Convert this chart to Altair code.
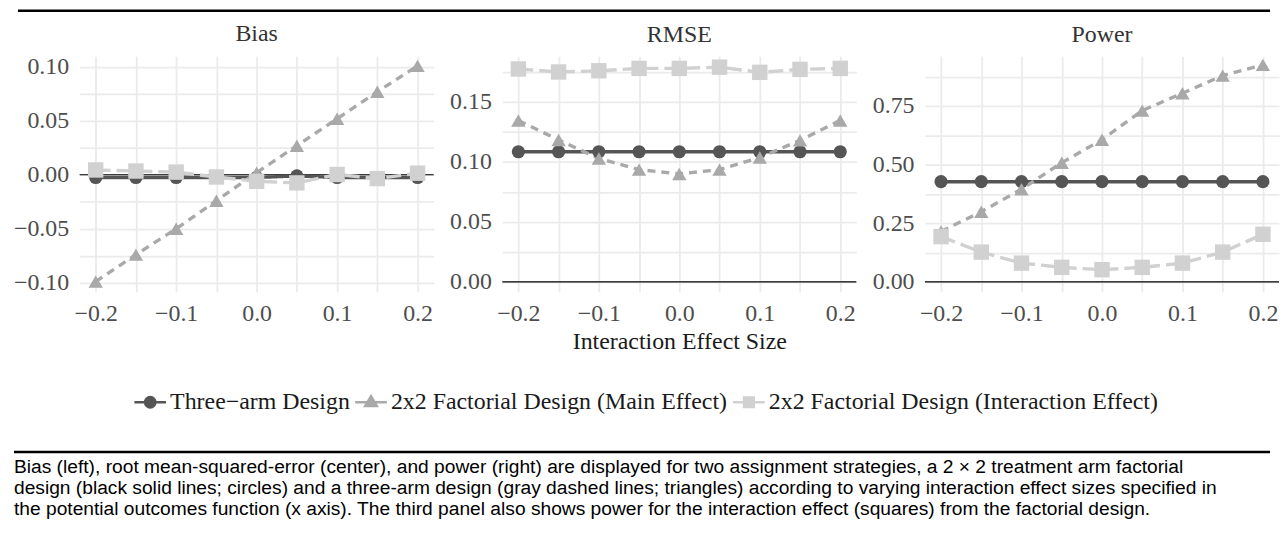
import altair as alt
import pandas as pd

# ---------------- data ----------------
x_vals = [-0.2, -0.15, -0.1, -0.05, 0.0, 0.05, 0.1, 0.15, 0.2]
designs = ["Three\u2212arm Design",
           "2x2 Factorial Design (Main Effect)",
           "2x2 Factorial Design (Interaction Effect)"]

bias_three = [-0.0025, -0.0025, -0.0025, -0.0025, -0.0025, -0.001, -0.0025, -0.0025, -0.0025]
bias_main = [-0.099, -0.074, -0.050, -0.024, 0.002, 0.027, 0.052, 0.077, 0.101]
bias_inter = [0.0045, 0.0035, 0.0025, -0.002, -0.006, -0.0075, 0.0003, -0.0035, 0.0015]

rmse_three = [0.1085, 0.1085, 0.1085, 0.1085, 0.1085, 0.1085, 0.1085, 0.1085, 0.1085]
rmse_main = [0.1346, 0.1183, 0.1029, 0.0936, 0.0900, 0.0936, 0.1037, 0.1180, 0.1346]
rmse_inter = [0.1775, 0.1750, 0.1760, 0.1780, 0.1780, 0.1790, 0.1747, 0.1772, 0.1780]

power_three = [0.427, 0.427, 0.427, 0.427, 0.427, 0.427, 0.427, 0.427, 0.427]
power_main = [0.215, 0.299, 0.395, 0.508, 0.606, 0.730, 0.804, 0.879, 0.925]
power_inter = [0.193, 0.127, 0.080, 0.062, 0.052, 0.062, 0.080, 0.127, 0.203]

x_ticks = [-0.2, -0.15, -0.1, -0.05, 0.0, 0.05, 0.1, 0.15, 0.2]
x_major = [-0.2, -0.1, 0.0, 0.1, 0.2]
bias_ticks = [-0.1, -0.075, -0.05, -0.025, 0.0, 0.025, 0.05, 0.075, 0.1]
bias_major = [-0.1, -0.05, 0.0, 0.05, 0.1]
rmse_ticks = [0.0, 0.025, 0.05, 0.075, 0.1, 0.125, 0.15, 0.175]
rmse_major = [0.0, 0.05, 0.1, 0.15]
power_ticks = [0.0, 0.125, 0.25, 0.375, 0.5, 0.625, 0.75, 0.875]
power_major = [0.0, 0.25, 0.5, 0.75]

caption_lines = [
    "Bias (left), root mean-squared-error (center), and power (right) are displayed for two assignment strategies, a 2 \u00d7 2 treatment arm factorial",
    "design (black solid lines; circles) and a three-arm design (gray dashed lines; triangles) according to varying interaction effect sizes specified in",
    "the potential outcomes function (x axis). The third panel also shows power for the interaction effect (squares) from the factorial design.",
]

rows = []
for metric, series in [("Bias", [bias_three, bias_main, bias_inter]),
                       ("RMSE", [rmse_three, rmse_main, rmse_inter]),
                       ("Power", [power_three, power_main, power_inter])]:
    for d, vals in zip(designs, series):
        for xv, v in zip(x_vals, vals):
            rows.append({"metric": metric, "design": d, "x": xv, "value": v})
df = pd.DataFrame(rows)

# ---------------- styles ----------------
colors = ["#555555", "#a9a9a9", "#d1d1d1"]
dashes = [[1, 0], [8, 6], [15, 6]]
shapes = ["circle", "triangle-up", "square"]
sizes = [175, 240, 190]
legend_paths = [
    "M-2.45,0H2.45M0.8,0A0.8,0.8,0,1,1,-0.8,0A0.8,0.8,0,1,1,0.8,0Z",
    "M-2.45,0H2.45M0,-0.95L0.9,0.6L-0.9,0.6Z",
    "M-2.45,0H2.45M-0.75,-0.75H0.75V0.75H-0.75Z",
]
SERIF = "Liberation Serif"
FS = 24
W, H = 356, 237


def label_expr(major, fmt):
    arr = ",".join(repr(v) for v in major)
    return f"indexof([{arr}], datum.value) >= 0 ? format(datum.value, '{fmt}') : ''"


def panel(metric, ticks, major, domain, extent, xtitle):
    base = alt.Chart(df).transform_filter(alt.datum.metric == metric)
    xenc = alt.X("x:Q", scale=alt.Scale(domain=[-0.22, 0.22], nice=False, zero=False),
                 axis=alt.Axis(values=x_ticks, labelExpr=label_expr(x_major, ".1f"),
                               labelPadding=10, titlePadding=4, title=xtitle))
    yenc = alt.Y("value:Q", scale=alt.Scale(domain=domain, nice=False, zero=False),
                 axis=alt.Axis(values=ticks, labelExpr=label_expr(major, ".2f"), title=None,
                               labelPadding=11, minExtent=extent, maxExtent=extent))
    color = alt.Color("design:N", scale=alt.Scale(domain=designs, range=colors), legend=None)

    zero = alt.Chart(pd.DataFrame({"value": [0.0]})).mark_rule(
        color="black", strokeWidth=1.1).encode(y=yenc)
    lines = base.mark_line(strokeWidth=3.4).encode(
        x=xenc, y=yenc, color=color,
        strokeDash=alt.StrokeDash("design:N", scale=alt.Scale(domain=designs, range=dashes), legend=None))
    pts = base.mark_point(filled=True, opacity=1).encode(
        x=xenc, y=yenc, color=color,
        shape=alt.Shape("design:N", scale=alt.Scale(domain=designs, range=shapes), legend=None),
        size=alt.Size("design:N", scale=alt.Scale(domain=designs, range=sizes), legend=None))
    return alt.layer(zero, lines, pts).properties(
        width=W, height=H,
        title=alt.TitleParams(text=metric, font=SERIF, fontSize=FS, fontWeight="normal",
                              color="#333333", baseline="top", offset=9))


p_bias = panel("Bias", bias_ticks, bias_major, [-0.1085, 0.110], 72, None)
p_rmse = panel("RMSE", rmse_ticks, rmse_major, [-0.0083, 0.1882], 51, "Interaction Effect Size")
p_power = panel("Power", power_ticks, power_major, [-0.0424, 0.962], 51, None)

# top frame line (x positions relative to the first panel's plot origin)
top = alt.Chart(pd.DataFrame({"k": [0]})).mark_rule(color="black", strokeWidth=2.5).encode(
    x=alt.value(-62), x2=alt.value(1197), y=alt.value(1.25)).properties(width=1190, height=12)

# legend row
leg = alt.Legend(title=None, orient="none", legendX=59, legendY=34,
                 direction="horizontal", columns=3, symbolSize=169,
                 symbolStrokeWidth=2.5, symbolOpacity=1,
                 labelFont=SERIF, labelFontSize=FS, labelColor="#1a1a1a",
                 labelOffset=8, columnPadding=0, labelLimit=900)
leg_df = pd.DataFrame({"design_key": designs})
legend_row = alt.Chart(leg_df).mark_point(filled=True, opacity=0, strokeWidth=2.5).encode(
    x=alt.value(0), y=alt.value(0),
    color=alt.Color("design_key:N", scale=alt.Scale(domain=designs, range=colors), legend=leg),
    stroke=alt.Stroke("design_key:N", scale=alt.Scale(domain=designs, range=colors), legend=leg),
    shape=alt.Shape("design_key:N", scale=alt.Scale(domain=designs, range=legend_paths), legend=leg),
).properties(width=1190, height=68)

# caption
cap_df = pd.DataFrame({"line": [0, 1, 2], "text": caption_lines})
cap_rule = alt.Chart(pd.DataFrame({"k": [0]})).mark_rule(color="black", strokeWidth=2.5).encode(
    x=alt.value(-66), x2=alt.value(1197), y=alt.value(28))
cap_text = alt.Chart(cap_df).mark_text(align="left", baseline="middle", font="Liberation Sans",
                                       fontSize=19.3, color="black").encode(
    x=alt.value(-66),
    y=alt.Y("line:O", axis=None, scale=alt.Scale(type="point", range=[43, 85], padding=0)),
    text="text:N")
caption = alt.layer(cap_rule, cap_text).properties(width=1190, height=95)

chart = alt.vconcat(
    top,
    alt.hconcat(p_bias, p_rmse, p_power, spacing=15),
    legend_row,
    caption,
    spacing=0,
).resolve_scale(color="independent", stroke="independent", shape="independent").properties(
    padding=0).configure_view(stroke=None).configure_axis(
    domain=False, ticks=False, tickSize=0, grid=True, gridColor="#ebebeb", gridWidth=1.8,
    labelFont=SERIF, labelFontSize=FS, labelColor="#4d4d4d",
    titleFont=SERIF, titleFontSize=FS, titleColor="#1a1a1a", titleFontWeight="normal",
    labelOverlap=False,
)

chart.save("out.html", embed_options={"renderer": "svg", "actions": False})
